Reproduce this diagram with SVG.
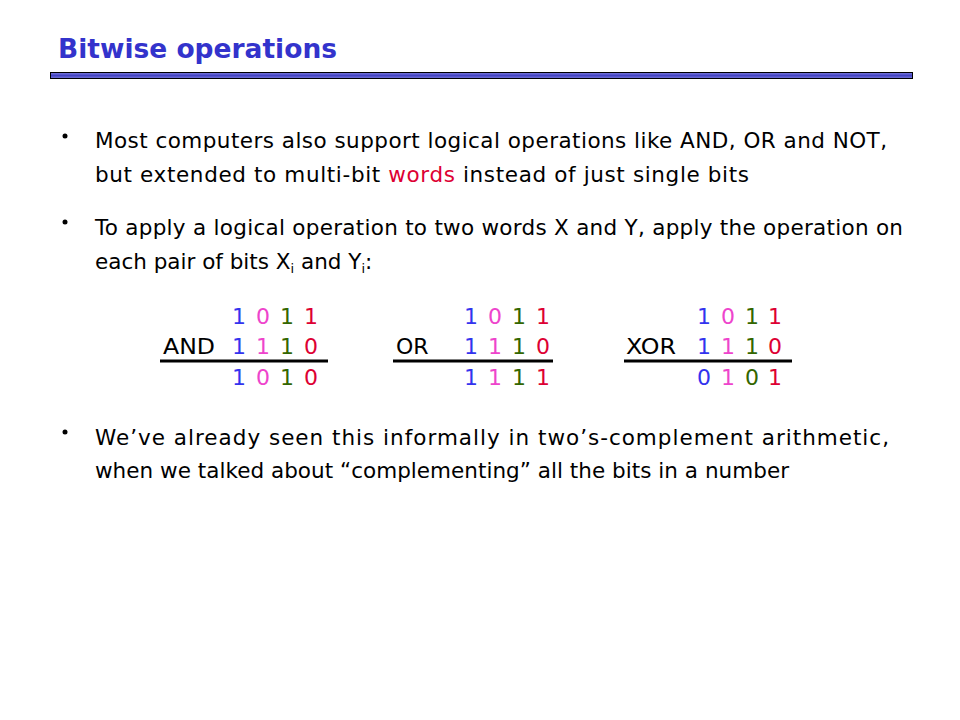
<svg xmlns="http://www.w3.org/2000/svg" width="960" height="720" viewBox="0 0 960 720">
<defs>
<linearGradient id="bar" x1="0" y1="0" x2="0" y2="1">
<stop offset="0" stop-color="#8080e0"/>
<stop offset="0.5" stop-color="#4444c4"/>
<stop offset="1" stop-color="#7a7ad8"/>
</linearGradient>
<style>
.t{font-family:"DejaVu Sans","Liberation Sans",sans-serif;font-size:21.5px;fill:#000}
.title{font-family:"DejaVu Sans","Liberation Sans",sans-serif;font-size:27px;font-weight:bold;fill:#3333cc}
.d{font-family:"DejaVu Sans","Liberation Sans",sans-serif;font-size:22px;text-anchor:middle}
.op{font-family:"DejaVu Sans","Liberation Sans",sans-serif;font-size:22px;fill:#000}
.b{fill:#3333ee}.p{fill:#ee44cc}.g{fill:#336600}.r{fill:#dd0033}
.ul{stroke:#000;stroke-width:3}
</style>
</defs>
<rect width="960" height="720" fill="#fff"/>
<g id="title">
<text class="title" x="58" y="58" textLength="279" lengthAdjust="spacingAndGlyphs">Bitwise operations</text>
<rect x="50.5" y="72.5" width="862" height="6" fill="url(#bar)" stroke="#000" stroke-width="1"/>
</g>
<g id="bullets">
<circle cx="65" cy="136" r="2.5" fill="#000"/>
<text class="t" x="95" y="148" textLength="792" lengthAdjust="spacing">Most computers also support logical operations like AND, OR and NOT,</text>
<text class="t" x="95" y="182" textLength="654" lengthAdjust="spacing">but extended to multi-bit <tspan fill="#dd0033">words</tspan> instead of just single bits</text>
<circle cx="65" cy="222" r="2.5" fill="#000"/>
<text class="t" x="95" y="235" textLength="808" lengthAdjust="spacing">To apply a logical operation to two words X and Y, apply the operation on</text>
<text class="t" x="95" y="269">each pair of bits X<tspan font-size="13" dy="4">i</tspan><tspan dy="-4"> and Y</tspan><tspan font-size="13" dy="4">i</tspan><tspan dy="-4">:</tspan></text>
<circle cx="65" cy="432" r="2.5" fill="#000"/>
<text class="t" x="95" y="445" textLength="794" lengthAdjust="spacing">We’ve already seen this informally in two’s-complement arithmetic,</text>
<text class="t" x="95" y="478" textLength="694" lengthAdjust="spacing">when we talked about “complementing” all the bits in a number</text>
</g>
<g id="and-table">
<text class="op" x="163" y="354" textLength="52" lengthAdjust="spacingAndGlyphs">AND</text>
<text class="d b" x="239" y="324">1</text><text class="d p" x="263" y="324">0</text><text class="d g" x="287" y="324">1</text><text class="d r" x="311" y="324">1</text>
<text class="d b" x="239" y="354">1</text><text class="d p" x="263" y="354">1</text><text class="d g" x="287" y="354">1</text><text class="d r" x="311" y="354">0</text>
<line class="ul" x1="160" y1="361" x2="328" y2="361"/>
<text class="d b" x="239" y="385">1</text><text class="d p" x="263" y="385">0</text><text class="d g" x="287" y="385">1</text><text class="d r" x="311" y="385">0</text>
</g>
<g id="or-table">
<text class="op" x="396" y="354">OR</text>
<text class="d b" x="471" y="324">1</text><text class="d p" x="495" y="324">0</text><text class="d g" x="519" y="324">1</text><text class="d r" x="543" y="324">1</text>
<text class="d b" x="471" y="354">1</text><text class="d p" x="495" y="354">1</text><text class="d g" x="519" y="354">1</text><text class="d r" x="543" y="354">0</text>
<line class="ul" x1="393" y1="361" x2="553" y2="361"/>
<text class="d b" x="471" y="385">1</text><text class="d p" x="495" y="385">1</text><text class="d g" x="519" y="385">1</text><text class="d r" x="543" y="385">1</text>
</g>
<g id="xor-table">
<text class="op" x="626" y="354" textLength="50" lengthAdjust="spacingAndGlyphs">XOR</text>
<text class="d b" x="704" y="324">1</text><text class="d p" x="728" y="324">0</text><text class="d g" x="752" y="324">1</text><text class="d r" x="775" y="324">1</text>
<text class="d b" x="704" y="354">1</text><text class="d p" x="728" y="354">1</text><text class="d g" x="752" y="354">1</text><text class="d r" x="775" y="354">0</text>
<line class="ul" x1="624" y1="361" x2="792" y2="361"/>
<text class="d b" x="704" y="385">0</text><text class="d p" x="728" y="385">1</text><text class="d g" x="752" y="385">0</text><text class="d r" x="775" y="385">1</text>
</g>
<g id="connectors"/>
</svg>
